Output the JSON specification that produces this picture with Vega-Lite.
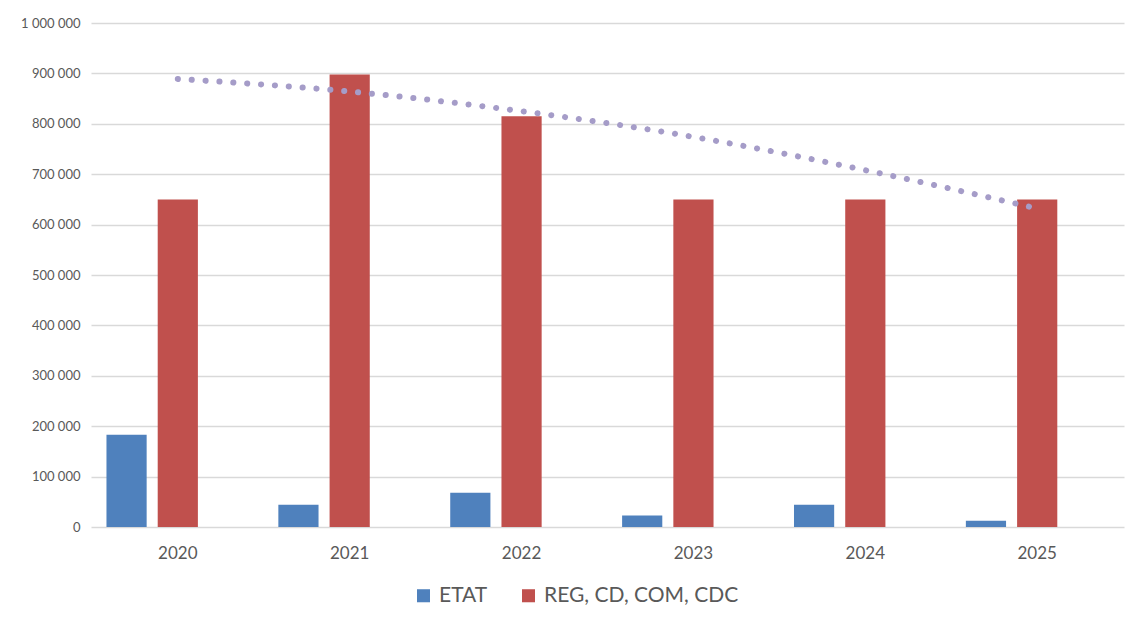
{
  "$schema": "https://vega.github.io/schema/vega-lite/v6.json",
  "width": 1033,
  "height": 504,
  "autosize": {"type": "none"},
  "padding": {"left": 91, "top": 23, "right": 10, "bottom": 96},
  "background": "white",
  "config": {
    "font": "Lato",
    "view": {"stroke": null},
    "axis": {"labelColor": "#595959", "labelFont": "Lato"},
    "legend": {"labelFont": "Lato"}
  },
  "datasets": {
    "bars": [
      {"annee": "2020", "serie": "ETAT", "montant": 183000},
      {"annee": "2020", "serie": "REG, CD, COM, CDC", "montant": 650000},
      {"annee": "2021", "serie": "ETAT", "montant": 44000},
      {"annee": "2021", "serie": "REG, CD, COM, CDC", "montant": 898000},
      {"annee": "2022", "serie": "ETAT", "montant": 68000},
      {"annee": "2022", "serie": "REG, CD, COM, CDC", "montant": 815000},
      {"annee": "2023", "serie": "ETAT", "montant": 23000},
      {"annee": "2023", "serie": "REG, CD, COM, CDC", "montant": 650000},
      {"annee": "2024", "serie": "ETAT", "montant": 44000},
      {"annee": "2024", "serie": "REG, CD, COM, CDC", "montant": 650000},
      {"annee": "2025", "serie": "ETAT", "montant": 12500},
      {"annee": "2025", "serie": "REG, CD, COM, CDC", "montant": 650000}
    ],
    "tendance": [
      {"annee": "2020", "valeur": 889000},
      {"annee": "2021", "valeur": 864000},
      {"annee": "2022", "valeur": 825000},
      {"annee": "2023", "valeur": 774000},
      {"annee": "2024", "valeur": 708000},
      {"annee": "2025", "valeur": 632000}
    ]
  },
  "layer": [
    {
      "data": {"name": "bars"},
      "mark": {"type": "bar"},
      "encoding": {
        "x": {
          "field": "annee",
          "type": "nominal",
          "scale": {"paddingInner": 0.17, "paddingOuter": 0.09},
          "axis": {
            "title": null,
            "labelAngle": 0,
            "ticks": false,
            "domain": false,
            "labelFontSize": 17,
            "labelPadding": 18
          }
        },
        "xOffset": {
          "field": "serie",
          "type": "nominal",
          "scale": {
            "domain": ["ETAT", "REG, CD, COM, CDC", "TOTAL"],
            "paddingInner": 0.2157,
            "paddingOuter": 0
          }
        },
        "y": {
          "field": "montant",
          "type": "quantitative",
          "scale": {"domain": [0, 1000000]},
          "axis": {
            "title": null,
            "values": [0, 100000, 200000, 300000, 400000, 500000, 600000, 700000, 800000, 900000, 1000000],
            "labelExpr": "replace(format(datum.value, ','), /,/g, ' ')",
            "ticks": false,
            "domain": false,
            "labelFontSize": 13,
            "labelPadding": 11,
            "gridColor": "#d9d9d9",
            "gridWidth": 1.3
          }
        },
        "color": {
          "field": "serie",
          "type": "nominal",
          "scale": {
            "domain": ["ETAT", "REG, CD, COM, CDC"],
            "range": ["#4F81BD", "#C0504D"]
          },
          "legend": {
            "title": null,
            "orient": "none",
            "legendX": 322,
            "legendY": 562,
            "direction": "horizontal",
            "symbolType": "square",
            "symbolSize": 170,
            "symbolStrokeWidth": 0,
            "labelFontSize": 21,
            "labelColor": "#595959",
            "labelLimit": 400,
            "labelOffset": 5,
            "columnPadding": 30
          }
        }
      }
    },
    {
      "data": {"name": "tendance"},
      "mark": {
        "type": "line",
        "interpolate": "monotone",
        "color": "#a59cc8",
        "strokeWidth": 6,
        "strokeCap": "round",
        "strokeDash": [0.1, 13.8]
      },
      "encoding": {
        "x": {"field": "annee", "type": "nominal"},
        "y": {"field": "valeur", "type": "quantitative"}
      }
    }
  ]
}
